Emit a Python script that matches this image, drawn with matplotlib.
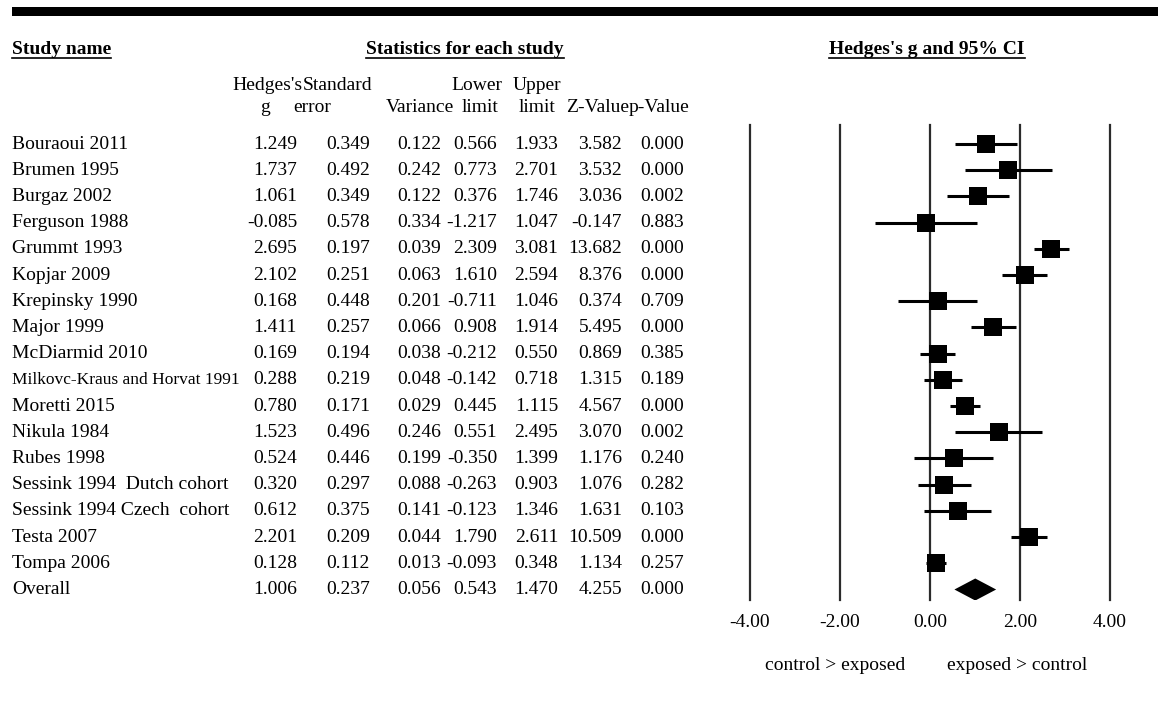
import matplotlib
matplotlib.use("Agg")
import matplotlib.pyplot as plt
from matplotlib.lines import Line2D
from matplotlib.patches import Polygon, Rectangle
from matplotlib.transforms import blended_transform_factory

# data read from the reference table (last row is the pooled estimate)
studies = [
    "Bouraoui 2011", "Brumen 1995", "Burgaz 2002", "Ferguson 1988", "Grummt 1993",
    "Kopjar 2009", "Krepinsky 1990", "Major 1999", "McDiarmid 2010",
    "Milkovc-Kraus and Horvat 1991", "Moretti 2015", "Nikula 1984", "Rubes 1998",
    "Sessink 1994  Dutch cohort", "Sessink 1994 Czech  cohort", "Testa 2007",
    "Tompa 2006", "Overall",
]
hedges_g = [1.249, 1.737, 1.061, -0.085, 2.695, 2.102, 0.168, 1.411, 0.169,
            0.288, 0.780, 1.523, 0.524, 0.320, 0.612, 2.201, 0.128, 1.006]
std_err = [0.349, 0.492, 0.349, 0.578, 0.197, 0.251, 0.448, 0.257, 0.194,
           0.219, 0.171, 0.496, 0.446, 0.297, 0.375, 0.209, 0.112, 0.237]
variance = [0.122, 0.242, 0.122, 0.334, 0.039, 0.063, 0.201, 0.066, 0.038,
            0.048, 0.029, 0.246, 0.199, 0.088, 0.141, 0.044, 0.013, 0.056]
lower = [0.566, 0.773, 0.376, -1.217, 2.309, 1.610, -0.711, 0.908, -0.212,
         -0.142, 0.445, 0.551, -0.350, -0.263, -0.123, 1.790, -0.093, 0.543]
upper = [1.933, 2.701, 1.746, 1.047, 3.081, 2.594, 1.046, 1.914, 0.550,
         0.718, 1.115, 2.495, 1.399, 0.903, 1.346, 2.611, 0.348, 1.470]
z_value = [3.582, 3.532, 3.036, -0.147, 13.682, 8.376, 0.374, 5.495, 0.869,
           1.315, 4.567, 3.070, 1.176, 1.076, 1.631, 10.509, 1.134, 4.255]
p_value = [0.000, 0.000, 0.002, 0.883, 0.000, 0.000, 0.709, 0.000, 0.385,
           0.189, 0.000, 0.002, 0.240, 0.282, 0.103, 0.000, 0.257, 0.000]

x_ticks = [-4, -2, 0, 2, 4]
x_tick_labels = ["-4.00", "-2.00", "0.00", "2.00", "4.00"]

W, H = 1158, 709
plt.rcParams["font.family"] = ["Liberation Serif", "DejaVu Serif"]
FS = 14

fig = plt.figure(figsize=(W / 100, H / 100), dpi=100)


def fx(px):
    return px / W


def fy(py):
    return 1 - py / H


# forest plot axes
ax = fig.add_axes([fx(750), fy(600), fx(1110) - fx(750), fy(125) - fy(600)])
ax.set_xlim(-4, 4)
ax.set_ylim(17.40, -0.725)
for t in x_ticks:
    ax.axvline(t, color="#2b2b2b", lw=1.6, zorder=0, clip_on=False)

n_study = len(studies) - 1
rows = list(range(len(studies)))
ax.hlines(rows[:n_study], lower[:n_study], upper[:n_study], color="black", lw=2.2)
ax.plot(hedges_g[:n_study], rows[:n_study], "s", color="black", ms=12.8, mew=0)
yo = rows[-1]
ax.add_patch(Polygon([(lower[-1], yo), (hedges_g[-1], yo - 0.42),
                      (upper[-1], yo), (hedges_g[-1], yo + 0.42)],
                     closed=True, color="black", lw=0))

ax.set_xticks(x_ticks, labels=x_tick_labels)
ax.set_yticks([])
ax.tick_params(axis="x", length=0, pad=10, labelsize=FS)
for s in ax.spines.values():
    s.set_visible(False)
ax.text(-2.1, 17.40 + 67 / 26.2 - 0.05, "control > exposed", ha="center", va="center",
        fontsize=FS, clip_on=False)
ax.text(1.93, 17.40 + 67 / 26.2 - 0.05, "exposed > control", ha="center", va="center",
        fontsize=FS, clip_on=False)

# table to the left, rows share the forest axes y scale
trans = blended_transform_factory(fig.transFigure, ax.transData)
columns = [(297, hedges_g), (370, std_err), (441, variance), (497, lower),
           (558, upper), (622, z_value), (684, p_value)]
for i, name in enumerate(studies):
    size = 12.5 if name.startswith("Milkovc") else FS
    ax.text(fx(12), i, name, transform=trans, ha="left", va="center", fontsize=size)
    for xr, vals in columns:
        ax.text(fx(xr), i, f"{vals[i]:.3f}", transform=trans, ha="right",
                va="center", fontsize=FS)

# column headers
headers = [
    (267, 86, "Hedges's"), (338, 86, "Standard"), (265, 107, "g"), (312, 107, "error"),
    (420, 107, "Variance"), (477, 86, "Lower"), (480, 107, "limit"),
    (537, 86, "Upper"), (537, 107, "limit"),
]
for x, y, s in headers:
    fig.text(fx(x), fy(y), s, ha="center", va="center", fontsize=FS)
fig.text(fx(629), fy(107), "Z-Value", ha="right", va="center", fontsize=FS)
fig.text(fx(629), fy(107), "p-Value", ha="left", va="center", fontsize=FS)

titles = [
    fig.text(fx(12), fy(50), "Study name", ha="left", va="center", fontsize=FS, weight="bold"),
    fig.text(fx(465), fy(50), "Statistics for each study", ha="center", va="center",
             fontsize=FS, weight="bold"),
    fig.text(fx(927), fy(50), "Hedges's g and 95% CI", ha="center", va="center",
             fontsize=FS, weight="bold"),
]

# top black rule
fig.patches.append(Rectangle((fx(12), fy(16)), 1 - fx(12), fy(7) - fy(16),
                             transform=fig.transFigure, color="black", lw=0))

fig.canvas.draw()
renderer = fig.canvas.get_renderer()
inv = fig.transFigure.inverted()
for t in titles:
    bb = t.get_window_extent(renderer)
    (x0, y0), (x1, _) = inv.transform([(bb.x0, bb.y0 + 1), (bb.x1, bb.y0 + 1)])
    fig.lines.append(Line2D([x0, x1], [y0, y0], transform=fig.transFigure,
                            color="black", lw=1.2))

fig.savefig("out.png", dpi=100)
